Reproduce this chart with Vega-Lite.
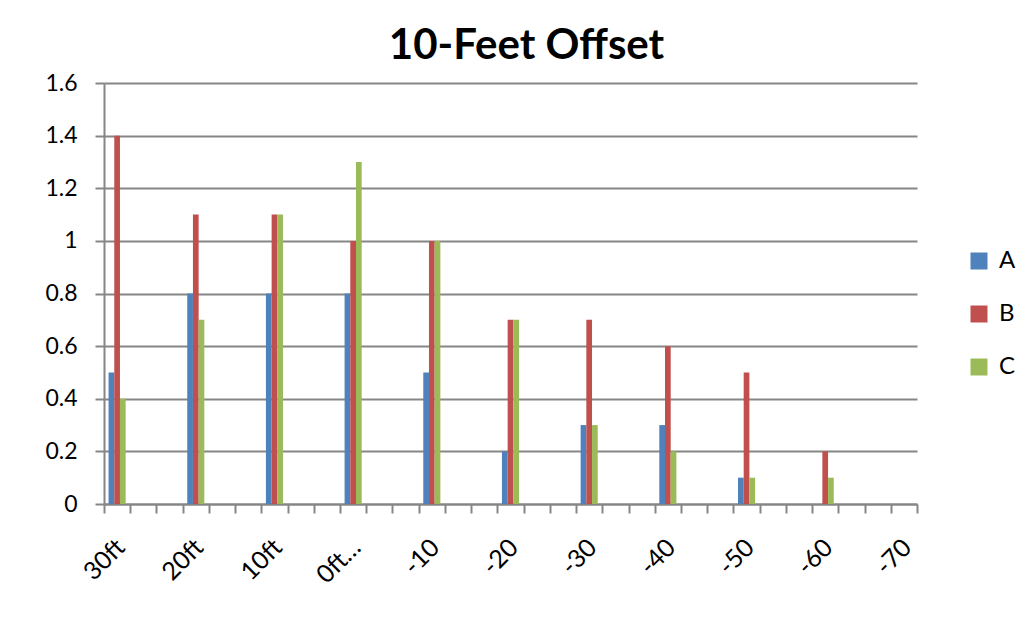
{
  "$schema": "https://vega.github.io/schema/vega-lite/v6.json",
  "autosize": {"type": "none"},
  "width": 813,
  "height": 421,
  "padding": {"left": 104, "top": 83, "right": 112, "bottom": 117},
  "background": "white",
  "title": {
    "text": "10-Feet Offset",
    "font": "Lato",
    "fontSize": 42,
    "fontWeight": "bold",
    "color": "#000000",
    "anchor": "middle",
    "dx": 16,
    "baseline": "alphabetic",
    "offset": -29
  },
  "data": {
    "values": [
      {"pos": "30ft", "series": "A", "value": 0.5},
      {"pos": "30ft", "series": "B", "value": 1.4},
      {"pos": "30ft", "series": "C", "value": 0.4},
      {"pos": "20ft", "series": "A", "value": 0.8},
      {"pos": "20ft", "series": "B", "value": 1.1},
      {"pos": "20ft", "series": "C", "value": 0.7},
      {"pos": "10ft", "series": "A", "value": 0.8},
      {"pos": "10ft", "series": "B", "value": 1.1},
      {"pos": "10ft", "series": "C", "value": 1.1},
      {"pos": "0ft…", "series": "A", "value": 0.8},
      {"pos": "0ft…", "series": "B", "value": 1.0},
      {"pos": "0ft…", "series": "C", "value": 1.3},
      {"pos": "-10", "series": "A", "value": 0.5},
      {"pos": "-10", "series": "B", "value": 1.0},
      {"pos": "-10", "series": "C", "value": 1.0},
      {"pos": "-20", "series": "A", "value": 0.2},
      {"pos": "-20", "series": "B", "value": 0.7},
      {"pos": "-20", "series": "C", "value": 0.7},
      {"pos": "-30", "series": "A", "value": 0.3},
      {"pos": "-30", "series": "B", "value": 0.7},
      {"pos": "-30", "series": "C", "value": 0.3},
      {"pos": "-40", "series": "A", "value": 0.3},
      {"pos": "-40", "series": "B", "value": 0.6},
      {"pos": "-40", "series": "C", "value": 0.2},
      {"pos": "-50", "series": "A", "value": 0.1},
      {"pos": "-50", "series": "B", "value": 0.5},
      {"pos": "-50", "series": "C", "value": 0.1},
      {"pos": "-60", "series": "A", "value": 0},
      {"pos": "-60", "series": "B", "value": 0.2},
      {"pos": "-60", "series": "C", "value": 0.1}
    ]
  },
  "mark": {"type": "bar"},
  "encoding": {
    "x": {
      "field": "pos",
      "type": "nominal",
      "sort": null,
      "scale": {
        "domain": ["30ft", "_1", "_2", "20ft", "_4", "_5", "10ft", "_7", "_8", "0ft…", "_10", "_11", "-10", "_13", "_14", "-20", "_16", "_17", "-30", "_19", "_20", "-40", "_22", "_23", "-50", "_25", "_26", "-60", "_28", "_29", "-70"],
        "paddingInner": 0,
        "paddingOuter": 0
      },
      "axis": {
        "title": null,
        "tickBand": "extent",
        "labelExpr": "indexof(datum.label, '_') === 0 ? '' : datum.label",
        "labelAngle": -45,
        "labelAlign": "right",
        "labelBaseline": "middle",
        "labelPadding": 30,
        "labelOffset": 3,
        "labelFont": "Lato",
        "labelFontSize": 25,
        "labelColor": "#000000",
        "labelOverlap": false,
        "domainColor": "#868686",
        "domainWidth": 2,
        "tickColor": "#868686",
        "tickWidth": 2,
        "tickSize": 9,
        "grid": false
      }
    },
    "xOffset": {
      "field": "series",
      "type": "nominal",
      "scale": {"paddingInner": 0, "paddingOuter": 0.8}
    },
    "y": {
      "field": "value",
      "type": "quantitative",
      "scale": {"domain": [0, 1.6], "nice": false},
      "axis": {
        "title": null,
        "values": [0, 0.2, 0.4, 0.6, 0.8, 1, 1.2, 1.4, 1.6],
        "format": "~g",
        "labelFont": "Lato",
        "labelFontSize": 23,
        "labelColor": "#000000",
        "labelPadding": 18,
        "domainColor": "#868686",
        "domainWidth": 2,
        "tickColor": "#868686",
        "tickWidth": 2,
        "tickSize": 9,
        "gridColor": "#868686",
        "gridWidth": 2,
        "gridOpacity": 1
      }
    },
    "color": {
      "field": "series",
      "type": "nominal",
      "scale": {"domain": ["A", "B", "C"], "range": ["#4F81BD", "#C0504D", "#9BBB59"]},
      "legend": {
        "title": null,
        "orient": "none",
        "legendX": 863,
        "legendY": 166,
        "symbolType": "square",
        "symbolSize": 289,
        "symbolStrokeWidth": 0,
        "symbolOpacity": 1,
        "labelFont": "Lato",
        "labelFontSize": 24,
        "labelColor": "#000000",
        "labelOffset": 8,
        "rowPadding": 29
      }
    }
  },
  "config": {
    "view": {"stroke": null},
    "bar": {"stroke": "#ffffff", "strokeWidth": 0, "opacity": 1}
  }
}
